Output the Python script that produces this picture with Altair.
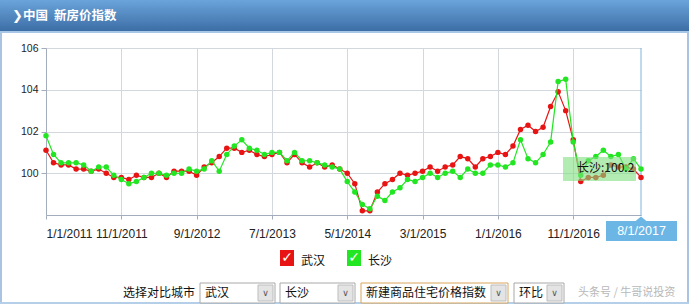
import altair as alt
import pandas as pd

# ---------------- data ----------------
start_year = 2011
n_months = 80
month_labels = [f"{(i % 12) + 1}/1/{start_year + i // 12}" for i in range(n_months)]

wuhan = [101.1, 100.5, 100.4, 100.4, 100.2, 100.2, 100.1, 100.2, 100.0, 99.8,
         99.8, 99.7, 99.9, 99.8, 99.8, 100.0, 99.8, 100.1, 100.1, 100.1,
         99.9, 100.3, 100.5, 100.8, 101.2, 101.2, 101.0, 101.1, 100.9, 100.8,
         100.9, 101.0, 100.5, 100.9, 100.5, 100.3, 100.5, 100.3, 100.4, 100.2,
         100.0, 99.5, 98.2, 98.2, 99.1, 99.5, 99.7, 100.0, 99.9, 100.0,
         100.1, 100.3, 100.1, 100.3, 100.4, 100.8, 100.7, 100.3, 100.7, 100.8,
         101.0, 100.9, 101.3, 102.1, 102.3, 102.0, 102.2, 103.2, 103.9, 103.0,
         101.6, 99.6, 99.8, 99.8, 99.9, 100.4, 100.3, 100.3, 100.2, 99.8]

changsha = [101.8, 100.9, 100.5, 100.5, 100.5, 100.4, 100.1, 100.3, 100.3, 99.9,
            99.7, 99.5, 99.6, 99.8, 100.0, 100.0, 99.9, 100.0, 100.0, 100.2,
            100.1, 100.2, 100.6, 100.1, 100.9, 101.3, 101.6, 101.2, 101.1, 100.9,
            101.0, 101.0, 100.6, 101.0, 100.6, 100.6, 100.5, 100.4, 100.3, 100.2,
            99.6, 99.1, 98.5, 98.3, 98.9, 98.7, 99.1, 99.3, 99.7, 99.6,
            99.8, 100.0, 99.8, 100.0, 100.1, 99.8, 100.2, 100.0, 100.0, 100.4,
            100.4, 100.3, 100.5, 101.6, 100.7, 100.5, 100.9, 101.5, 104.4, 104.5,
            101.5, 99.9, 100.6, 100.8, 101.1, 100.8, 100.9, 100.2, 100.7, 100.2]

series_names = ["武汉", "长沙"]
series_colors = ["#e81414", "#22e622"]
y_ticks = [100, 102, 104, 106]
x_ticks = [0, 10, 20, 30, 40, 50, 60, 70]
select_items = ["武汉", "长沙", "新建商品住宅价格指数", "环比"]

df = pd.DataFrame({"idx": list(range(n_months)), "label": month_labels,
                   "wuhan": wuhan, "changsha": changsha})

# ---------------- geometry ----------------
OX, OY = 46, 48
W, H = 595, 167
CJK = "Noto Sans CJK SC"
LAT = "Liberation Sans"

dummy = pd.DataFrame({"a": [0]})

x_enc = alt.X("idx:Q", scale=alt.Scale(domain=[0, n_months - 1], nice=False, zero=False),
              axis=alt.Axis(values=x_ticks, title=None, grid=True, gridColor="#d3d7de",
                            domainColor="#a3acba", tickColor="#a3acba", tickSize=4,
                            labelPadding=9, labelFont=LAT, labelFontSize=12,
                            labelColor="#222222",
                            labelExpr="((datum.value % 12) + 1) + '/1/' + (2011 + floor(datum.value / 12))"))
y_scale = alt.Scale(domain=[98, 106], nice=False, zero=False)


def y_enc(field):
    return alt.Y(f"{field}:Q", scale=y_scale,
                 axis=alt.Axis(values=y_ticks, title=None, grid=True, gridColor="#d3d7de",
                               domainColor="#a3acba", tickColor="#a3acba", tickSize=5,
                               labelPadding=3, labelFont=LAT, labelFontSize=10.5,
                               labelColor="#222222"))


def rect(x1, y1, x2, y2, **kw):
    return alt.Chart(dummy).mark_rect(**kw).encode(
        x=alt.value(x1 - OX), x2=alt.value(x2 - OX),
        y=alt.value(y1 - OY), y2=alt.value(y2 - OY))


def text(x, y, s, align="left", **kw):
    return alt.Chart(dummy).mark_text(align=align, baseline="middle", **kw).encode(
        x=alt.value(x - OX), y=alt.value(y - OY), text=alt.value(s))


layers = []

# header
grad = alt.LinearGradient(gradient="linear",
                          stops=[alt.GradientStop(color="#6aa4da", offset=0),
                                 alt.GradientStop(color="#3d6ea6", offset=1)],
                          x1=0, x2=0, y1=0, y2=1)
layers.append(rect(0, 0, 689, 31, color=grad))
layers.append(rect(0, 31, 689, 33, color="#a8c6e6"))
layers.append(rect(0, 31, 2, 304, color="#a8c4e2"))
layers.append(rect(687, 31, 689, 304, color="#a8c4e2"))
layers.append(rect(0, 302, 689, 304, color="#b5cfe8"))
layers.append(text(12, 16, "❯", font="DejaVu Sans", fontSize=13, fontWeight="bold", color="white"))
layers.append(text(23, 16, "中国", font=CJK, fontSize=12.5, fontWeight="bold", color="white"))
layers.append(text(54, 16, "新房价指数", font=CJK, fontSize=12.5, fontWeight="bold", color="white"))

# crosshair at last point
layers.append(alt.Chart(dummy).mark_rule(color="#7ab4e0", strokeWidth=1).encode(
    x=alt.value(W), y=alt.value(0), y2=alt.value(216 - OY)))

# data series (Wuhan first, Changsha on top)
for field, color in [("wuhan", series_colors[0]), ("changsha", series_colors[1])]:
    base = alt.Chart(df).encode(x=x_enc, y=y_enc(field))
    layers.append(base.mark_line(color=color, strokeWidth=1.2))
    layers.append(base.mark_point(color=color, filled=True, opacity=1, size=30))

# tooltip
layers.append(rect(563, 157, 636, 181, color="#7fe07f", opacity=0.6))
layers.append(text(577, 168, f"{series_names[1]}:{changsha[-1]}", font=CJK, fontSize=12, color="#111111"))

# date label box
layers.append(rect(606, 221, 677, 241, color="#6cb6e6"))
layers.append(alt.Chart(dummy).mark_point(shape="M-1,0L0,-0.85L1,0Z", filled=True, opacity=1,
                                          size=144, color="#6cb6e6").encode(
    x=alt.value(641 - OX), y=alt.value(221.5 - OY)))
layers.append(text(641.5, 231, month_labels[-1], align="center", font=LAT, fontSize=12.5, color="white"))

# legend (checkboxes)
for (bx, tx, name, col) in [(280, 301, series_names[0], series_colors[0]),
                            (347, 368, series_names[1], series_colors[1])]:
    layers.append(rect(bx, 250, bx + 14, 266, color=col))
    layers.append(text(bx + 7, 258, "✓", align="center", font="DejaVu Sans", fontSize=14,
                       fontWeight="bold", color="white"))
    layers.append(text(tx, 261, name, font=CJK, fontSize=12, color="#111111"))

# bottom selector row
layers.append(text(123, 293, "选择对比城市", font=CJK, fontSize=12, color="#111111"))
boxes = [(200, 275, "#a8a8a8"), (280, 355, "#a8a8a8"), (361, 508, "#d9a55a"), (514, 564, "#a8a8a8")]
for (x1, x2, border), label in zip(boxes, select_items):
    layers.append(rect(x1, 283, x2, 303, color="white", stroke=border, strokeWidth=1))
    layers.append(rect(x2 - 17, 285, x2 - 2, 301, color="#e4e4e4", stroke="#bdbdbd", strokeWidth=1))
    layers.append(text(x2 - 9.5, 293, "∨", align="center", font="DejaVu Sans", fontSize=9, color="#555555"))
    layers.append(text(x1 + 5, 293, label, font=CJK, fontSize=12, color="#111111"))
layers.append(text(578, 293, "头条号 / 牛哥说投资", font=CJK, fontSize=11, color="#b8b8b8"))

chart = alt.layer(*layers).properties(
    width=W, height=H,
    padding={"left": OX, "top": OY, "right": 689 - OX - W, "bottom": 304 - OY - H},
    autosize=alt.AutoSizeParams(type="none"),
    background="white",
).configure_view(stroke=None)

chart.save("out.html", embed_options={"renderer": "svg", "actions": False})
